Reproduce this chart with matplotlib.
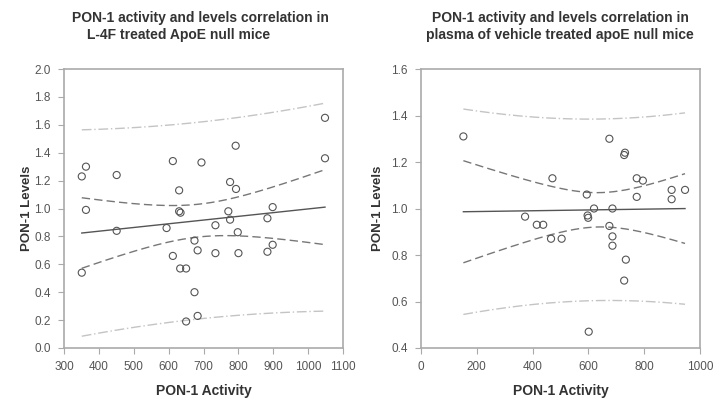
import numpy as np
import matplotlib
matplotlib.use("Agg")
import matplotlib.pyplot as plt

plt.rcParams["font.family"] = ["Liberation Sans", "DejaVu Sans"]

# L-4F treated ApoE null mice
act_l4f = [351, 363, 451, 363, 612, 694, 792, 1048, 1048, 630, 776, 793, 630, 634,
           771, 898, 451, 594, 734, 776, 883, 798, 351, 674, 683, 612, 734, 800,
           883, 898, 633, 650, 674, 650, 683]
lev_l4f = [1.23, 1.30, 1.24, 0.99, 1.34, 1.33, 1.45, 1.65, 1.36, 1.13, 1.19, 1.14,
           0.98, 0.97, 0.98, 1.01, 0.84, 0.86, 0.88, 0.92, 0.93, 0.83, 0.54, 0.77,
           0.70, 0.66, 0.68, 0.68, 0.69, 0.74, 0.57, 0.57, 0.40, 0.19, 0.23]

# vehicle treated apoE null mice
act_veh = [152, 675, 731, 728, 471, 773, 795, 594, 773, 898, 946, 898, 620, 686,
           597, 599, 373, 415, 438, 675, 686, 466, 504, 686, 734, 728, 601]
lev_veh = [1.31, 1.30, 1.24, 1.23, 1.13, 1.13, 1.12, 1.06, 1.05, 1.08, 1.08, 1.04,
           1.00, 1.00, 0.97, 0.96, 0.965, 0.93, 0.93, 0.925, 0.88, 0.87, 0.87, 0.84,
           0.78, 0.69, 0.47]

T_VAL = 2.04


def fit_bands(x, y):
    x = np.asarray(x, float)
    y = np.asarray(y, float)
    n = len(x)
    b, a = np.polyfit(x, y, 1)
    s = np.sqrt(np.sum((y - (a + b * x)) ** 2) / (n - 2))
    sxx = np.sum((x - x.mean()) ** 2)
    xs = np.linspace(x.min(), x.max(), 200)
    yh = a + b * xs
    ci = T_VAL * s * np.sqrt(1 / n + (xs - x.mean()) ** 2 / sxx)
    pi = T_VAL * s * np.sqrt(1 + 1 / n + (xs - x.mean()) ** 2 / sxx)
    return xs, yh, ci, pi


def draw(ax, x, y, xlim, xticks, ylim, yticks, ypad):
    xs, yh, ci, pi = fit_bands(x, y)
    ax.plot(xs, yh + pi, color="#c4c4c4", lw=1, dashes=(7, 2, 1, 2))
    ax.plot(xs, yh - pi, color="#c4c4c4", lw=1, dashes=(7, 2, 1, 2))
    ax.plot(xs, yh + ci, color="#777777", lw=1, dashes=(6, 3))
    ax.plot(xs, yh - ci, color="#777777", lw=1, dashes=(6, 3))
    ax.plot(xs, yh, color="#555555", lw=1)
    ax.scatter(x, y, s=26, facecolors="none", edgecolors="#555555", linewidths=0.8, zorder=3)
    ax.set_xlim(*xlim)
    ax.set_ylim(*ylim)
    ax.set_xticks(xticks)
    ax.set_yticks(yticks)
    ax.yaxis.set_major_formatter(matplotlib.ticker.FormatStrFormatter("%.1f"))
    for sp in ax.spines.values():
        sp.set_color("#aaaaaa")
        sp.set_linewidth(1.2)
    ax.tick_params(direction="out", length=4.5, color="#aaaaaa", labelsize=8.5,
                   labelcolor="#555555", pad=5)
    ax.set_xlabel("PON-1 Activity", fontsize=10, fontweight="bold", color="#333333", labelpad=8)
    ax.set_ylabel("PON-1 Levels", fontsize=9.5, fontweight="bold", color="#333333", labelpad=ypad)


fig = plt.figure(figsize=(7.27, 4.0), dpi=100)
ax1 = fig.add_axes([0.088, 0.13, 0.384, 0.6975])
ax2 = fig.add_axes([0.579, 0.13, 0.384, 0.6975])

draw(ax1, act_l4f, lev_l4f, (300, 1100), np.arange(300, 1101, 100),
     (0.0, 2.0), np.arange(0, 2.01, 0.2), 1)
draw(ax2, act_veh, lev_veh, (0, 1000), np.arange(0, 1001, 200),
     (0.4, 1.6), np.arange(0.4, 1.61, 0.2), 5)

fig.text(72 / 727, 1 - 18 / 400, "PON-1 activity and levels correlation in",
         fontsize=10, fontweight="bold", color="#333333", ha="left", va="center")
fig.text(87 / 727, 1 - 35 / 400, "L-4F treated ApoE null mice",
         fontsize=10, fontweight="bold", color="#333333", ha="left", va="center")
fig.text(560 / 727, 1 - 18 / 400, "PON-1 activity and levels correlation in",
         fontsize=10, fontweight="bold", color="#333333", ha="center", va="center")
fig.text(560 / 727, 1 - 35 / 400, "plasma of vehicle treated apoE null mice",
         fontsize=10, fontweight="bold", color="#333333", ha="center", va="center")

fig.savefig("out.png", dpi=100)
